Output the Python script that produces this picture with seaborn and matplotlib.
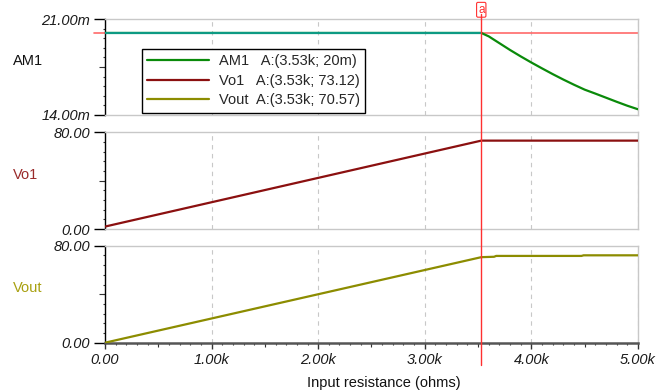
import matplotlib
matplotlib.use("Agg")
import matplotlib.pyplot as plt
import seaborn as sns
import numpy as np

# Values (x in ohms)
r_am1 = [0, 3530, 3600, 3700, 3800, 3900, 4000, 4100, 4200, 4300, 4400,
         4500, 4600, 4700, 4800, 4900, 5000]
am1_mA = [20.0, 20.0, 19.75, 19.25, 18.75, 18.28, 17.83, 17.4, 16.98, 16.58, 16.2,
          15.84, 15.55, 15.25, 14.95, 14.66, 14.4]

r_vo1 = [0, 3530, 5000]
vo1 = [2.0, 73.12, 73.12]

r_vout = [0, 3530, 3650, 3670, 4470, 4490, 5000]
vout = [0.0, 70.57, 70.9, 71.6, 71.6, 72.1, 72.1]

cursor_x = 3530
cursor_am1 = 20.0

xticks = [0, 1000, 2000, 3000, 4000, 5000]
xtick_labels = ["0.00", "1.00k", "2.00k", "3.00k", "4.00k", "5.00k"]

panel_names = ["AM1", "Vo1", "Vout"]
panel_ylims = [(14, 21), (0, 80), (0, 80)]
panel_yticklabels = [["14.00m", "21.00m"], ["0.00", "80.00"], ["0.00", "80.00"]]
legend_labels = ["AM1   A:(3.53k; 20m)", "Vo1   A:(3.53k; 73.12)", "Vout  A:(3.53k; 70.57)"]

line_colors = ["#0a8a0a", "#8b1010", "#8c8c00"]
label_colors = ["#111111", "#9a2a2a", "#a8a010"]

sns.set_theme(style="white")
plt.rcParams['font.family'] = ['Liberation Sans', 'DejaVu Sans']

fig = plt.figure(figsize=(6.56, 3.91), dpi=100)
left, width = 0.160, 0.8125
ax1 = fig.add_axes([left, 0.7066, width, 0.244])
ax2 = fig.add_axes([left, 0.4143, width, 0.2473])
ax3 = fig.add_axes([left, 0.1235, width, 0.248])
axes = [ax1, ax2, ax3]

handles = []

# AM1 panel
ax1.axhline(cursor_am1, xmin=-0.02, xmax=1, clip_on=False, color="#ff6a6a", lw=1.2, zorder=1)
sns.lineplot(x=r_am1, y=am1_mA, ax=ax1, color=line_colors[0], lw=1.6, zorder=3)
handles.append(ax1.get_lines()[-1])
mask = [r <= cursor_x for r in r_am1]
sns.lineplot(x=[r for r, m in zip(r_am1, mask) if m], y=[v for v, m in zip(am1_mA, mask) if m],
             ax=ax1, color="#10a8e8", lw=1.6, alpha=0.55, zorder=4)

# Vo1 panel
sns.lineplot(x=r_vo1, y=vo1, ax=ax2, color=line_colors[1], lw=1.6, zorder=3)
handles.append(ax2.get_lines()[-1])

# Vout panel
sns.lineplot(x=r_vout, y=vout, ax=ax3, color=line_colors[2], lw=1.6, zorder=3)
handles.append(ax3.get_lines()[-1])

for i, ax in enumerate(axes):
    lo, hi = panel_ylims[i]
    ax.set_xlim(0, 5000)
    ax.set_ylim(lo, hi)
    ax.set_yticks([lo, hi])
    ax.set_yticklabels(panel_yticklabels[i], fontstyle="italic", fontsize=10.5, color="#1a1a1a")
    ax.set_yticks(np.linspace(lo, hi, 11), minor=True)
    ax.tick_params(axis="y", which="major", left=True, length=7.7, width=1, color="black", pad=3)
    ax.tick_params(axis="y", which="minor", left=True, length=1.8, width=0.8, color="#333333")
    # middle tick, a bit longer
    sec = ax.secondary_yaxis("left")
    sec.set_yticks([(lo + hi) / 2])
    sec.set_yticklabels([""])
    sec.tick_params(length=4.3, width=0.8, color="#333333")
    sec.spines["left"].set_visible(False)

    ax.set_xticks(xticks)
    ax.grid(axis="x", linestyle=(0, (4, 4)), color="#c8c8c8", lw=0.8)
    ax.grid(axis="y", visible=False)

    for s in ["top", "right", "bottom"]:
        ax.spines[s].set_color("#c8c8c8")
        ax.spines[s].set_linewidth(1)
    ax.spines["left"].set_color("black")
    ax.spines["left"].set_linewidth(1)

    ax.set_ylabel(panel_names[i], rotation=0, ha="left", va="center", fontsize=10.5, color=label_colors[i])
    ax.yaxis.set_label_coords(-0.173, 0.56)

for ax in [ax1, ax2]:
    ax.tick_params(axis="x", which="both", bottom=False, labelbottom=False)

# bottom x axis
ax3.spines["bottom"].set_color("#555555")
ax3.spines["bottom"].set_linewidth(1.8)
ax3.set_xticklabels(xtick_labels, fontstyle="italic", fontsize=10.5, color="#1a1a1a")
ax3.set_xticks(np.arange(0, 5001, 100), minor=True)
ax3.tick_params(axis="x", which="major", bottom=True, length=4.2, width=1, color="#333333", pad=3)
ax3.tick_params(axis="x", which="minor", bottom=True, length=1.6, width=0.8, color="#333333")
secx = ax3.secondary_xaxis("bottom")
secx.set_xticks([500, 1500, 2500, 3500, 4500])
secx.set_xticklabels([""] * 5)
secx.tick_params(length=3, width=0.8, color="#333333")
secx.spines["bottom"].set_visible(False)
ax3.set_xlabel("Input resistance (ohms)", fontsize=10.5, color="#111111", va="center")
ax3.xaxis.set_label_coords(0.523, -0.415)

# cursor
ax3.axvline(cursor_x, ymin=-0.23, ymax=3.39, clip_on=False, color="#ff3030", lw=1, zorder=10)
ax1.annotate("a", xy=(cursor_x, 1.10), xycoords=("data", "axes fraction"), ha="center", va="center",
             fontsize=8.5, color="#ff3030", annotation_clip=False,
             bbox=dict(boxstyle="round,pad=0.12", fc="white", ec="#ff3030", lw=0.8))

leg = ax1.legend(handles, legend_labels, loc="upper left", bbox_to_anchor=(0.069, 0.686),
                 borderaxespad=0, fontsize=10.5, handlelength=4.25, handletextpad=0.7,
                 borderpad=0.35, labelspacing=0.38, fancybox=False, framealpha=1)
leg.get_frame().set_edgecolor("black")
leg.get_frame().set_linewidth(1)
leg.set_zorder(20)

fig.savefig("out.png", dpi=100)
